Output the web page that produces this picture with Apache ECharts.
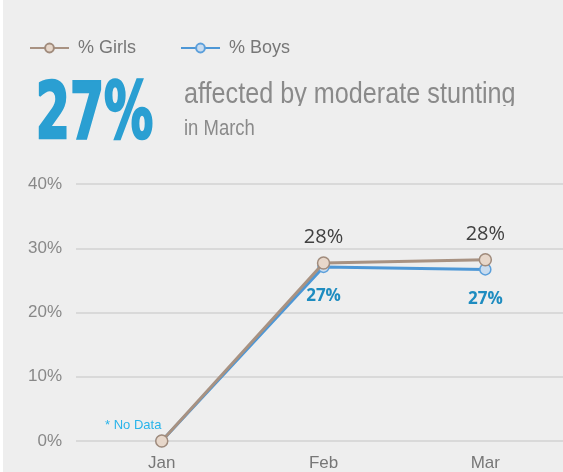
<!DOCTYPE html>
<html>
<head>
<meta charset="utf-8">
<script src="https://cdn.jsdelivr.net/npm/echarts@6/dist/echarts.min.js"></script>
<style>
  html, body { margin: 0; padding: 0; background: #fff; }
  #chart { position: absolute; left: 3px; top: 0; width: 560px; height: 472px; background: #eeeeee; }
</style>
</head>
<body>
<div id="chart"></div>
<script>
var months = ['Jan', 'Feb', 'Mar'];
var girls = [0, 27.7, 28.2];
var boys = [0, 27.1, 26.7];
var girlsLabels = ['', '28%', '28%'];
var boysLabels = ['', '27%', '27%'];
var yTicks = [0, 10, 20, 30, 40];

var chart = echarts.init(document.getElementById('chart'));

function pairs(arr) {
    var out = [];
    for (var i = 0; i < arr.length; i++) out.push([i, arr[i]]);
    return out;
}

var option = {
    animation: false,
    backgroundColor: '#eeeeee',
    legend: {
        left: 21,
        top: 34,
        itemWidth: 39,
        itemHeight: 11,
        itemGap: 44,
        textStyle: { color: '#777', fontSize: 18, fontFamily: 'Liberation Sans', padding: [0, 0, 0, 4] },
        data: ['% Girls', '% Boys']
    },
    graphic: [
        {
            type: 'text', left: 32, top: 77, scaleX: 0.69,
            style: { text: '27%', fill: '#2a9fd2', stroke: '#2a9fd2', lineWidth: 2.5, font: 'bold 79px "DejaVu Sans Condensed"' }
        },
        {
            type: 'text', left: 181, top: 80, scaleX: 0.84,
            style: { text: 'affected by moderate stunting', fill: '#8a8a8a', font: '30px "Liberation Sans"' }
        },
        {
            type: 'rect', left: 178, top: 106, shape: { width: 345, height: 9 },
            style: { fill: '#eeeeee' }, z: 10
        },
        {
            type: 'text', left: 181, top: 118, scaleX: 0.84,
            style: { text: 'in March', fill: '#8a8a8a', font: '22px "Liberation Sans"' }
        },
        {
            type: 'text', left: 102, top: 419,
            style: { text: '* No Data', fill: '#2ab4ea', font: '13px "Liberation Sans"' }
        }
    ],
    grid: { left: 73, right: -2, top: 184, bottom: 31, containLabel: false },
    xAxis: {
        type: 'value',
        min: -0.53,
        max: 2.48,
        splitLine: { show: false },
        axisLine: { show: false },
        axisTick: { show: false },
        axisLabel: {
            customValues: [0, 1, 2],
            color: '#777',
            fontSize: 17,
            fontFamily: 'Liberation Sans',
            margin: 14,
            formatter: function (v) { return months[Math.round(v)]; }
        }
    },
    yAxis: {
        type: 'value',
        min: 0,
        max: 40,
        interval: 10,
        axisLine: { show: false },
        axisTick: { show: false },
        splitLine: { lineStyle: { color: '#d9d9d9', width: 2 } },
        axisLabel: {
            color: '#888',
            fontSize: 17,
            fontFamily: 'Liberation Sans',
            margin: 14,
            formatter: function (v) { return yTicks.indexOf(v) >= 0 ? v + '%' : ''; }
        }
    },
    series: [
        {
            name: '% Boys',
            type: 'line',
            data: pairs(boys),
            symbol: 'circle',
            symbolSize: 11,
            lineStyle: { color: '#4d97d6', width: 3 },
            itemStyle: { color: '#c9dcef', borderColor: '#5b9fdb', borderWidth: 1.5 },
            label: {
                show: true,
                position: 'bottom',
                distance: 15,
                color: '#1e8cc0',
                fontWeight: 'bold',
                fontSize: 17,
                fontFamily: 'Open Sans',
                formatter: function (p) { return boysLabels[p.dataIndex]; }
            },
            z: 2
        },
        {
            name: '% Girls',
            type: 'line',
            data: pairs(girls),
            symbol: 'circle',
            symbolSize: 12,
            lineStyle: { color: '#a89282', width: 3 },
            itemStyle: { color: '#e7d7ca', borderColor: '#a08b7c', borderWidth: 1.5 },
            label: {
                show: true,
                position: 'top',
                distance: 9,
                color: '#404040',
                fontSize: 20,
                fontFamily: 'Open Sans',
                formatter: function (p) { return girlsLabels[p.dataIndex]; }
            },
            z: 3
        }
    ]
};

chart.setOption(option);
</script>
</body>
</html>
